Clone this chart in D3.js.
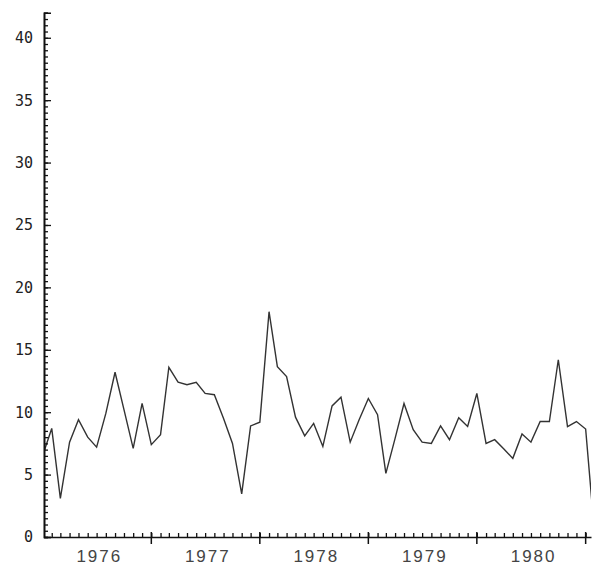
<!DOCTYPE html>
<html>
<head>
<meta charset="utf-8">
<script src="https://cdn.jsdelivr.net/npm/d3@7"></script>
<style>
  body { margin: 0; background: #fff; }
  svg { display: block; }
</style>
</head>
<body>
<div id="chart"></div>
<script>
// monthly series, first value is Jan 1976
var startYear = 1976;
var values = [
  6.5, 8.7, 3.1, 7.6, 9.4, 8.0, 7.2, 9.9, 13.2, 10.2, 7.1, 10.7,
  7.4, 8.2, 13.6, 12.4, 12.2, 12.4, 11.5, 11.4, 9.5, 7.5, 3.45, 8.9,
  9.2, 18.05, 13.65, 12.85, 9.6, 8.1, 9.1, 7.25, 10.5, 11.2, 7.6, 9.4,
  11.1, 9.8, 5.1, 7.9, 10.7, 8.6, 7.6, 7.5, 8.9, 7.8, 9.55, 8.85,
  11.5, 7.5, 7.8, 7.05, 6.3, 8.25, 7.6, 9.25, 9.25, 14.2, 8.85, 9.25,
  8.65, 0
];
var yearLabels = ["1976", "1977", "1978", "1979", "1980"];
var yLabels = [0, 5, 10, 15, 20, 25, 30, 35, 40];

var width = 600;
var height = 569;

var svg = d3.select("#chart").append("svg")
    .attr("width", width)
    .attr("height", height);

var data = values.map(function (v, i) {
    return { date: new Date(startYear, i, 1), value: v };
});

// axis runs from a few days into Jan 1976 to mid Jan 1981
var x = d3.scaleTime()
    .domain([new Date(1976, 0, 6), new Date(1981, 0, 19)])
    .range([44, 591]);

var y = d3.scaleLinear()
    .domain([0, 42])
    .range([537, 12.8]);

// clip so the first and last segments stop at the axes
svg.append("clipPath")
    .attr("id", "plot")
    .append("rect")
    .attr("x", x.range()[0])
    .attr("y", y.range()[1])
    .attr("width", x.range()[1] - x.range()[0])
    .attr("height", y.range()[0] - y.range()[1]);

var line = d3.line()
    .x(function (d) { return x(d.date); })
    .y(function (d) { return y(d.value); });

svg.append("path")
    .datum(data)
    .attr("clip-path", "url(#plot)")
    .attr("d", line)
    .attr("fill", "none")
    .attr("stroke", "#333")
    .attr("stroke-width", 1.4)
    .attr("stroke-linejoin", "miter");

// Y axis: minor ticks every 0.5, longer ones every 5
var yAxisMinor = d3.axisRight(y)
    .tickValues(d3.range(0, 42.01, 0.5))
    .tickSize(4)
    .tickFormat("");
var yAxisMajor = d3.axisRight(y)
    .tickValues(yLabels)
    .tickSize(7)
    .tickFormat("");

var gy = svg.append("g").attr("transform", "translate(" + x.range()[0] + ",0)");
gy.call(yAxisMinor);
gy.append("g").call(yAxisMajor);
gy.selectAll("path.domain").attr("stroke", "#111").attr("stroke-width", 1.6);
gy.selectAll("line").attr("stroke", "#111").attr("stroke-width", 1.3);

gy.selectAll("text.ylab")
    .data(yLabels)
    .enter().append("text")
    .attr("class", "ylab")
    .attr("x", -11)
    .attr("y", function (d) { return y(d); })
    .attr("dy", "0.36em")
    .attr("text-anchor", "end")
    .attr("font-family", "DejaVu Sans Mono, monospace")
    .attr("font-size", 15)
    .attr("fill", "#222")
    .text(function (d) { return d; });

// X axis: month ticks up, year ticks crossing the line
var gx = svg.append("g").attr("transform", "translate(0," + y(0) + ")");
gx.call(d3.axisTop(x)
    .ticks(d3.timeMonth.every(1))
    .tickSize(4)
    .tickSizeOuter(0)
    .tickFormat(""));
gx.selectAll("path.domain").attr("stroke", "#111").attr("stroke-width", 1.6);
gx.selectAll("line").attr("stroke", "#111").attr("stroke-width", 1.3);

var years = d3.timeYear.range(new Date(1977, 0, 1), new Date(1981, 0, 2));
gx.selectAll("line.year")
    .data(years)
    .enter().append("line")
    .attr("class", "year")
    .attr("x1", function (d) { return x(d); })
    .attr("x2", function (d) { return x(d); })
    .attr("y1", -5)
    .attr("y2", 7)
    .attr("stroke", "#111")
    .attr("stroke-width", 1.5);

gx.selectAll("text.year")
    .data(yearLabels)
    .enter().append("text")
    .attr("class", "year")
    .attr("x", function (d) { return x(new Date(+d, 6, 10)); })
    .attr("y", 25)
    .attr("text-anchor", "middle")
    .attr("font-family", "Liberation Sans, sans-serif")
    .attr("font-size", 17)
    .attr("letter-spacing", 2)
    .attr("fill", "#444")
    .text(function (d) { return d; });
</script>
</body>
</html>
